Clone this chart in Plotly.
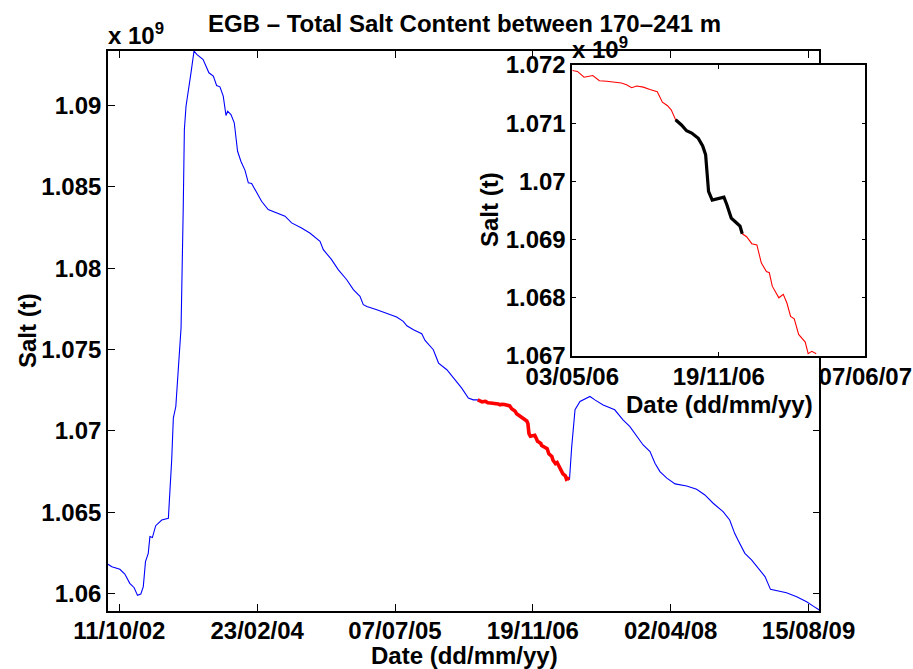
import pandas as pd
import plotly.graph_objects as go

# Total salt content (units of 1e9 t) in the 170-241 m layer, EGB
dates = [
    "2002-08-31", "2002-09-14", "2002-10-13", "2002-10-31", "2002-11-18", "2002-12-04",
    "2002-12-16", "2002-12-28", "2003-01-06", "2003-01-14", "2003-01-24", "2003-01-30",
    "2003-02-08", "2003-02-20", "2003-03-14", "2003-04-07", "2003-04-19", "2003-04-25",
    "2003-05-04", "2003-05-13", "2003-05-23", "2003-05-31", "2003-06-04", "2003-06-10",
    "2003-06-18", "2003-06-28", "2003-07-09", "2003-07-19", "2003-08-11", "2003-09-01",
    "2003-09-17", "2003-09-29", "2003-10-11", "2003-10-23", "2003-11-02", "2003-11-08",
    "2003-11-20", "2003-12-02", "2003-12-14", "2003-12-26", "2004-01-10", "2004-01-22",
    "2004-02-03", "2004-02-21", "2004-03-10", "2004-04-03", "2004-05-04", "2004-06-03",
    "2004-06-27", "2004-08-02", "2004-09-01", "2004-10-08", "2004-10-20", "2004-11-19",
    "2004-12-13", "2005-01-13", "2005-02-06", "2005-03-02", "2005-03-14", "2005-03-27",
    "2005-05-02", "2005-06-08", "2005-07-13", "2005-08-06", "2005-08-19", "2005-09-12",
    "2005-10-12", "2005-10-24", "2005-11-23", "2005-12-12", "2006-01-11", "2006-02-10",
    "2006-03-06", "2006-03-30", "2006-04-17",
    "2006-05-03", "2006-05-05", "2006-05-10", "2006-05-19", "2006-05-31", "2006-06-09",
    "2006-06-19", "2006-06-30", "2006-07-09", "2006-07-16", "2006-07-23", "2006-07-30",
    "2006-08-08", "2006-08-17", "2006-08-27", "2006-09-03", "2006-09-10", "2006-09-15",
    "2006-09-21", "2006-09-29", "2006-10-06", "2006-10-13", "2006-10-22", "2006-10-28",
    "2006-11-01", "2006-11-03", "2006-11-05", "2006-11-10", "2006-11-18", "2006-11-26",
    "2006-11-30", "2006-12-06", "2006-12-13", "2006-12-18", "2006-12-21", "2006-12-27",
    "2007-01-03", "2007-01-10", "2007-01-16", "2007-01-23", "2007-01-27", "2007-01-31",
    "2007-02-09", "2007-02-15", "2007-02-20", "2007-02-25", "2007-03-02", "2007-03-08",
    "2007-03-17", "2007-03-21", "2007-03-26", "2007-04-01",
    "2007-04-09", "2007-04-21", "2007-05-09", "2007-06-14", "2007-07-02", "2007-08-01",
    "2007-09-12", "2007-10-12", "2007-11-06", "2007-12-06", "2007-12-24", "2008-01-18",
    "2008-02-05", "2008-02-23", "2008-03-19", "2008-04-18", "2008-05-30", "2008-07-05",
    "2008-08-04", "2008-09-03", "2008-10-09", "2008-11-02", "2008-11-20", "2008-12-02",
    "2008-12-27", "2009-01-21", "2009-02-19", "2009-03-10", "2009-03-30", "2009-04-21",
    "2009-05-27", "2009-07-03", "2009-08-08", "2009-09-01", "2009-09-23",
]
salt = [
    1.06181, 1.06166, 1.06150, 1.06121, 1.06064, 1.06037,
    1.05990, 1.05998, 1.06043, 1.06197, 1.06248, 1.06351,
    1.06345, 1.06418, 1.06453, 1.06464, 1.06822, 1.07079,
    1.07150, 1.07417, 1.07634, 1.08380, 1.08852, 1.08995,
    1.09077, 1.09200, 1.09334, 1.09313, 1.09282, 1.09200,
    1.09180, 1.09122, 1.09114, 1.09057, 1.08938, 1.08964,
    1.08944, 1.08893, 1.08718, 1.08657, 1.08601, 1.08524,
    1.08520, 1.08462, 1.08411, 1.08360, 1.08340, 1.08319,
    1.08278, 1.08247, 1.08216, 1.08165, 1.08114, 1.08052,
    1.07991, 1.07929, 1.07868, 1.07827, 1.07776, 1.07765,
    1.07745, 1.07720, 1.07700, 1.07673, 1.07646, 1.07622,
    1.07597, 1.07556, 1.07499, 1.07417, 1.07376, 1.07314,
    1.07263, 1.07202, 1.07191,
    1.07191, 1.07190, 1.07189, 1.07179, 1.07182, 1.07173,
    1.07172, 1.07171, 1.07169, 1.07166, 1.07161, 1.07164,
    1.07162, 1.07158, 1.07154, 1.07136, 1.07130, 1.07123,
    1.07106, 1.07097, 1.07087, 1.07083, 1.07074, 1.07061,
    1.07046, 1.07014, 1.06983, 1.06968, 1.06970, 1.06973,
    1.06960, 1.06937, 1.06929, 1.06923, 1.06910, 1.06905,
    1.06893, 1.06891, 1.06860, 1.06845, 1.06843, 1.06820,
    1.06800, 1.06806, 1.06791, 1.06768, 1.06764, 1.06737,
    1.06724, 1.06704, 1.06708, 1.06704,
    1.06904, 1.07130, 1.07181, 1.07212, 1.07191, 1.07160,
    1.07130, 1.07068, 1.07027, 1.06956, 1.06914, 1.06873,
    1.06802, 1.06750, 1.06710, 1.06675, 1.06662, 1.06642,
    1.06607, 1.06556, 1.06504, 1.06453, 1.06371, 1.06330,
    1.06248, 1.06207, 1.06146, 1.06105, 1.06027, 1.06018,
    1.06006, 1.05982, 1.05951, 1.05924, 1.05900,
]

# Highlighted periods
zoom_period = ("2006-05-03", "2007-04-01")
focus_period = ("2006-09-21", "2006-12-21")

# Tick positions and labels
main_xticks = ["2002-10-11", "2004-02-23", "2005-07-07", "2006-11-19", "2008-04-02", "2009-08-15"]
main_xlabels = ["11/10/02", "23/02/04", "07/07/05", "19/11/06", "02/04/08", "15/08/09"]
main_yticks = [1.06, 1.065, 1.07, 1.075, 1.08, 1.085, 1.09]
main_ylabels = ["1.06", "1.065", "1.07", "1.075", "1.08", "1.085", "1.09"]
inset_xticks = ["2006-05-03", "2006-11-19", "2007-06-07"]
inset_xlabels = ["03/05/06", "19/11/06", "07/06/07"]
inset_yticks = [1.067, 1.068, 1.069, 1.07, 1.071, 1.072]
inset_ylabels = ["1.067", "1.068", "1.069", "1.07", "1.071", "1.072"]

df = pd.DataFrame({"date": pd.to_datetime(dates), "salt": salt})
zoom = df[(df.date >= zoom_period[0]) & (df.date <= zoom_period[1])]
focus = df[(df.date >= focus_period[0]) & (df.date <= focus_period[1])]

W, H = 913, 669
FONT = dict(family="Liberation Sans, Arial, sans-serif", size=24, color="black", weight="bold")

fig = go.Figure()
fig.add_trace(go.Scatter(x=df.date, y=df.salt, mode="lines",
                         line=dict(color="#0000ff", width=1.1), xaxis="x", yaxis="y"))
fig.add_trace(go.Scatter(x=zoom.date, y=zoom.salt, mode="lines",
                         line=dict(color="#ff0000", width=3.6), xaxis="x", yaxis="y"))
fig.add_trace(go.Scatter(x=zoom.date, y=zoom.salt, mode="lines",
                         line=dict(color="#ff0000", width=1.1), xaxis="x2", yaxis="y2"))
fig.add_trace(go.Scatter(x=focus.date, y=focus.salt, mode="lines",
                         line=dict(color="#000000", width=3.2), xaxis="x2", yaxis="y2"))

def px_x(p):
    return p / W

def px_y(p):
    return 1 - p / H

axis_common = dict(showline=True, linecolor="black", linewidth=1.6, mirror="allticks",
                   ticks="inside", tickcolor="black", tickwidth=1.2, showgrid=False,
                   zeroline=False, tickfont=FONT, automargin=False)

fig.update_layout(
    width=W, height=H,
    margin=dict(l=0, r=0, t=0, b=0, pad=0, autoexpand=False),
    paper_bgcolor="white", plot_bgcolor="white", showlegend=False,
    font=FONT,
    xaxis=dict(domain=[px_x(108), px_x(819.3)], anchor="y", type="date",
               range=["2002-08-31", "2009-09-23"], tickvals=main_xticks,
               ticktext=main_xlabels, ticklen=7, ticklabelstandoff=-3, **axis_common),
    yaxis=dict(domain=[px_y(611), px_y(51)], anchor="x",
               range=[1.05894, 1.09334], tickvals=main_yticks,
               ticktext=main_ylabels, ticklen=7, **axis_common),
    xaxis2=dict(domain=[px_x(572.3), px_x(865.3)], anchor="y2", type="date",
                range=[inset_xticks[0], inset_xticks[-1]], tickvals=inset_xticks,
                ticktext=inset_xlabels, ticklen=4, ticklabelstandoff=-2, **axis_common),
    yaxis2=dict(domain=[px_y(356), px_y(65)], anchor="x2",
                range=[1.067, 1.072], tickvals=inset_yticks,
                ticktext=inset_ylabels, ticklen=4, **axis_common),
)

def label(text, x, y, angle=0, xanchor="center"):
    fig.add_annotation(text=text, x=px_x(x), y=px_y(y), xref="paper", yref="paper",
                       showarrow=False, textangle=angle, xanchor=xanchor,
                       yanchor="middle", font=FONT)

label("EGB \u2013 Total Salt Content between 170\u2013241 m", 464, 24)
label("x 10<sup>9</sup>", 106, 34, xanchor="left")
label("Date (dd/mm/yy)", 464, 655)
label("Salt (t)", 28, 331, angle=-90)
label("x 10<sup>9</sup>", 570, 48, xanchor="left")
label("Date (dd/mm/yy)", 719, 404)
label("Salt (t)", 489, 210, angle=-90)

fig.write_html("out.html")
